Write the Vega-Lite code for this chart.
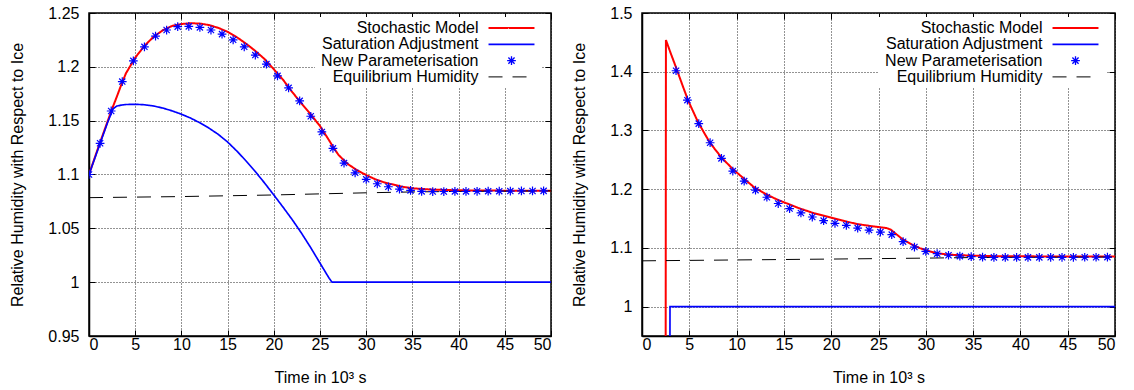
{
  "$schema": "https://vega.github.io/schema/vega-lite/v6.json",
  "padding": {"left": 8, "top": 4, "right": 0, "bottom": 0},
  "spacing": 17,
  "resolve": {"scale": {"color": "independent", "shape": "independent", "strokeDash": "independent", "strokeWidth": "independent"}},
  "datasets": {
    "L": [
      {"s":"Stochastic Model","x":0,"y":1.1},{"s":"Stochastic Model","x":1,"y":1.125},{"s":"Stochastic Model","x":2,"y":1.149},{"s":"Stochastic Model","x":2.5,"y":1.161},{"s":"Stochastic Model","x":3,"y":1.172},{"s":"Stochastic Model","x":3.5,"y":1.1835},{"s":"Stochastic Model","x":4,"y":1.194},{"s":"Stochastic Model","x":5,"y":1.2085},{"s":"Stochastic Model","x":6,"y":1.2195},{"s":"Stochastic Model","x":7,"y":1.228},{"s":"Stochastic Model","x":8,"y":1.234},{"s":"Stochastic Model","x":9,"y":1.238},{"s":"Stochastic Model","x":10,"y":1.2398},{"s":"Stochastic Model","x":11,"y":1.2405},{"s":"Stochastic Model","x":12,"y":1.2402},{"s":"Stochastic Model","x":13,"y":1.2388},{"s":"Stochastic Model","x":14,"y":1.2362},{"s":"Stochastic Model","x":15,"y":1.2325},{"s":"Stochastic Model","x":16,"y":1.2275},{"s":"Stochastic Model","x":17,"y":1.2215},{"s":"Stochastic Model","x":18,"y":1.2148},{"s":"Stochastic Model","x":19,"y":1.2072},{"s":"Stochastic Model","x":20,"y":1.1978},{"s":"Stochastic Model","x":21,"y":1.188},{"s":"Stochastic Model","x":22,"y":1.1765},{"s":"Stochastic Model","x":23,"y":1.166},{"s":"Stochastic Model","x":24,"y":1.1558},{"s":"Stochastic Model","x":25,"y":1.145},{"s":"Stochastic Model","x":26,"y":1.1315},{"s":"Stochastic Model","x":26.5,"y":1.1245},{"s":"Stochastic Model","x":27,"y":1.1182},{"s":"Stochastic Model","x":28,"y":1.1098},{"s":"Stochastic Model","x":29,"y":1.104},{"s":"Stochastic Model","x":30,"y":1.0995},{"s":"Stochastic Model","x":31,"y":1.0955},{"s":"Stochastic Model","x":32,"y":1.0925},{"s":"Stochastic Model","x":33,"y":1.0905},{"s":"Stochastic Model","x":34,"y":1.0885},{"s":"Stochastic Model","x":35,"y":1.0872},{"s":"Stochastic Model","x":37,"y":1.086},{"s":"Stochastic Model","x":40,"y":1.0853},{"s":"Stochastic Model","x":45,"y":1.085},{"s":"Stochastic Model","x":50,"y":1.085},
      {"s":"Saturation Adjustment","x":0,"y":1.1},{"s":"Saturation Adjustment","x":1,"y":1.124},{"s":"Saturation Adjustment","x":2,"y":1.148},{"s":"Saturation Adjustment","x":2.6,"y":1.161},{"s":"Saturation Adjustment","x":3,"y":1.1635},{"s":"Saturation Adjustment","x":3.5,"y":1.1645},{"s":"Saturation Adjustment","x":4,"y":1.165},{"s":"Saturation Adjustment","x":5,"y":1.1652},{"s":"Saturation Adjustment","x":6,"y":1.1648},{"s":"Saturation Adjustment","x":7,"y":1.1636},{"s":"Saturation Adjustment","x":8,"y":1.1617},{"s":"Saturation Adjustment","x":9,"y":1.1591},{"s":"Saturation Adjustment","x":10,"y":1.156},{"s":"Saturation Adjustment","x":11,"y":1.1524},{"s":"Saturation Adjustment","x":12,"y":1.148},{"s":"Saturation Adjustment","x":13,"y":1.143},{"s":"Saturation Adjustment","x":14,"y":1.1372},{"s":"Saturation Adjustment","x":15,"y":1.1302},{"s":"Saturation Adjustment","x":16,"y":1.1218},{"s":"Saturation Adjustment","x":17,"y":1.1126},{"s":"Saturation Adjustment","x":18,"y":1.1027},{"s":"Saturation Adjustment","x":19,"y":1.0921},{"s":"Saturation Adjustment","x":20,"y":1.081},{"s":"Saturation Adjustment","x":21,"y":1.0697},{"s":"Saturation Adjustment","x":22,"y":1.058},{"s":"Saturation Adjustment","x":23,"y":1.0455},{"s":"Saturation Adjustment","x":24,"y":1.032},{"s":"Saturation Adjustment","x":25,"y":1.0177},{"s":"Saturation Adjustment","x":26,"y":1.0035},{"s":"Saturation Adjustment","x":26.3,"y":1.0},{"s":"Saturation Adjustment","x":50,"y":1.0},
      {"s":"New Parameterisation","x":0,"y":1.1},{"s":"New Parameterisation","x":1.2,"y":1.129},{"s":"New Parameterisation","x":2.4,"y":1.159},{"s":"New Parameterisation","x":3.6,"y":1.1863},{"s":"New Parameterisation","x":4.8,"y":1.2056},{"s":"New Parameterisation","x":6,"y":1.2186},{"s":"New Parameterisation","x":7.2,"y":1.2286},{"s":"New Parameterisation","x":8.4,"y":1.2342},{"s":"New Parameterisation","x":9.6,"y":1.2373},{"s":"New Parameterisation","x":10.8,"y":1.2376},{"s":"New Parameterisation","x":12,"y":1.2366},{"s":"New Parameterisation","x":13.2,"y":1.2342},{"s":"New Parameterisation","x":14.4,"y":1.2304},{"s":"New Parameterisation","x":15.6,"y":1.2251},{"s":"New Parameterisation","x":16.8,"y":1.2186},{"s":"New Parameterisation","x":18,"y":1.2109},{"s":"New Parameterisation","x":19.2,"y":1.2025},{"s":"New Parameterisation","x":20.4,"y":1.1916},{"s":"New Parameterisation","x":21.6,"y":1.1805},{"s":"New Parameterisation","x":22.8,"y":1.1684},{"s":"New Parameterisation","x":24,"y":1.1541},{"s":"New Parameterisation","x":25.2,"y":1.1395},{"s":"New Parameterisation","x":26.4,"y":1.1243},{"s":"New Parameterisation","x":27.6,"y":1.1106},{"s":"New Parameterisation","x":28.8,"y":1.1016},{"s":"New Parameterisation","x":30,"y":1.0955},{"s":"New Parameterisation","x":31.2,"y":1.0914},{"s":"New Parameterisation","x":32.4,"y":1.0886},{"s":"New Parameterisation","x":33.6,"y":1.0865},{"s":"New Parameterisation","x":34.8,"y":1.0852},{"s":"New Parameterisation","x":36,"y":1.0843},{"s":"New Parameterisation","x":37.2,"y":1.0842},{"s":"New Parameterisation","x":38.4,"y":1.0842},{"s":"New Parameterisation","x":39.6,"y":1.0843},{"s":"New Parameterisation","x":40.8,"y":1.0843},{"s":"New Parameterisation","x":42,"y":1.0844},{"s":"New Parameterisation","x":43.2,"y":1.0845},{"s":"New Parameterisation","x":44.4,"y":1.0845},{"s":"New Parameterisation","x":45.6,"y":1.0846},{"s":"New Parameterisation","x":46.8,"y":1.0847},{"s":"New Parameterisation","x":48,"y":1.0847},{"s":"New Parameterisation","x":49.2,"y":1.0848},
      {"s":"Equilibrium Humidity","x":0,"y":1.0785},{"s":"Equilibrium Humidity","x":10,"y":1.0795},{"s":"Equilibrium Humidity","x":20,"y":1.081},{"s":"Equilibrium Humidity","x":30,"y":1.083},{"s":"Equilibrium Humidity","x":35,"y":1.0838},{"s":"Equilibrium Humidity","x":40,"y":1.0843},{"s":"Equilibrium Humidity","x":50,"y":1.0848}
    ],
    "R": [
      {"s":"Stochastic Model","x":2.5,"y":0.9},{"s":"Stochastic Model","x":2.53,"y":1.454},{"s":"Stochastic Model","x":3,"y":1.433},{"s":"Stochastic Model","x":3.66,"y":1.4046},{"s":"Stochastic Model","x":4.3,"y":1.376},{"s":"Stochastic Model","x":4.89,"y":1.3504},{"s":"Stochastic Model","x":5.95,"y":1.3133},{"s":"Stochastic Model","x":7.18,"y":1.279},{"s":"Stochastic Model","x":8.42,"y":1.2535},{"s":"Stochastic Model","x":9.64,"y":1.2337},{"s":"Stochastic Model","x":10.87,"y":1.2166},{"s":"Stochastic Model","x":11.93,"y":1.2022},{"s":"Stochastic Model","x":13.17,"y":1.1909},{"s":"Stochastic Model","x":14.4,"y":1.1815},{"s":"Stochastic Model","x":15.6,"y":1.174},{"s":"Stochastic Model","x":16.7,"y":1.167},{"s":"Stochastic Model","x":18.2,"y":1.159},{"s":"Stochastic Model","x":19.85,"y":1.1521},{"s":"Stochastic Model","x":21.3,"y":1.1462},{"s":"Stochastic Model","x":22.7,"y":1.1407},{"s":"Stochastic Model","x":24.3,"y":1.137},{"s":"Stochastic Model","x":25.85,"y":1.1338},{"s":"Stochastic Model","x":26.3,"y":1.131},{"s":"Stochastic Model","x":27.6,"y":1.114},{"s":"Stochastic Model","x":28.5,"y":1.106},{"s":"Stochastic Model","x":29.36,"y":1.0997},{"s":"Stochastic Model","x":30.2,"y":1.095},{"s":"Stochastic Model","x":31.1,"y":1.0911},{"s":"Stochastic Model","x":32.5,"y":1.0884},{"s":"Stochastic Model","x":34.6,"y":1.087},{"s":"Stochastic Model","x":37,"y":1.086},{"s":"Stochastic Model","x":40,"y":1.0856},{"s":"Stochastic Model","x":50,"y":1.0855},
      {"s":"Saturation Adjustment","x":2.95,"y":0.9},{"s":"Saturation Adjustment","x":2.96,"y":1.0},{"s":"Saturation Adjustment","x":50,"y":1.0},
      {"s":"New Parameterisation","x":3.6,"y":1.4017},{"s":"New Parameterisation","x":4.8,"y":1.3516},{"s":"New Parameterisation","x":6,"y":1.3116},{"s":"New Parameterisation","x":7.2,"y":1.2791},{"s":"New Parameterisation","x":8.4,"y":1.2525},{"s":"New Parameterisation","x":9.6,"y":1.2308},{"s":"New Parameterisation","x":10.8,"y":1.2137},{"s":"New Parameterisation","x":12,"y":1.1983},{"s":"New Parameterisation","x":13.2,"y":1.1863},{"s":"New Parameterisation","x":14.4,"y":1.1756},{"s":"New Parameterisation","x":15.6,"y":1.167},{"s":"New Parameterisation","x":16.8,"y":1.1595},{"s":"New Parameterisation","x":18,"y":1.1526},{"s":"New Parameterisation","x":19.2,"y":1.1465},{"s":"New Parameterisation","x":20.4,"y":1.1419},{"s":"New Parameterisation","x":21.6,"y":1.1385},{"s":"New Parameterisation","x":22.8,"y":1.1338},{"s":"New Parameterisation","x":24,"y":1.1304},{"s":"New Parameterisation","x":25.2,"y":1.127},{"s":"New Parameterisation","x":26.4,"y":1.1226},{"s":"New Parameterisation","x":27.6,"y":1.1106},{"s":"New Parameterisation","x":28.8,"y":1.1015},{"s":"New Parameterisation","x":30,"y":1.094},{"s":"New Parameterisation","x":31.2,"y":1.0902},{"s":"New Parameterisation","x":32.4,"y":1.0875},{"s":"New Parameterisation","x":33.6,"y":1.086},{"s":"New Parameterisation","x":34.8,"y":1.085},{"s":"New Parameterisation","x":36,"y":1.0842},{"s":"New Parameterisation","x":37.2,"y":1.0839},{"s":"New Parameterisation","x":38.4,"y":1.0838},{"s":"New Parameterisation","x":39.6,"y":1.0838},{"s":"New Parameterisation","x":40.8,"y":1.0839},{"s":"New Parameterisation","x":42,"y":1.0839},{"s":"New Parameterisation","x":43.2,"y":1.084},{"s":"New Parameterisation","x":44.4,"y":1.084},{"s":"New Parameterisation","x":45.6,"y":1.084},{"s":"New Parameterisation","x":46.8,"y":1.0841},{"s":"New Parameterisation","x":48,"y":1.0841},{"s":"New Parameterisation","x":49.2,"y":1.0842},
      {"s":"Equilibrium Humidity","x":0,"y":1.078},{"s":"Equilibrium Humidity","x":10,"y":1.0795},{"s":"Equilibrium Humidity","x":20,"y":1.081},{"s":"Equilibrium Humidity","x":30,"y":1.0826},{"s":"Equilibrium Humidity","x":35,"y":1.0836},{"s":"Equilibrium Humidity","x":40,"y":1.084},{"s":"Equilibrium Humidity","x":50,"y":1.0845}
    ]
  },
  "hconcat": [
    {
      "width": 462, "height": 323,
      "data": {"name": "L"},
      "layer": [
        {
          "transform": [{"filter": "datum.s !== 'New Parameterisation'"}],
          "mark": {"type": "line", "clip": true},
          "encoding": {
            "x": {"field": "x", "type": "quantitative", "scale": {"domain": [0, 50], "nice": false, "zero": false},
                  "axis": {"orient": "bottom", "values": [0,5,10,15,20,25,30,35,40,45,50], "title": "Time in 10³ s", "grid": true, "labelPadding": 6.5, "titlePadding": 16.5}},
            "y": {"field": "y", "type": "quantitative", "scale": {"domain": [0.95, 1.25], "nice": false, "zero": false},
                  "axis": {"orient": "left", "values": [0.95,1,1.05,1.1,1.15,1.2,1.25], "format": "~g", "title": "Relative Humidity with Respect to Ice", "grid": true, "labelPadding": 16, "titlePadding": 22.5}},
            "color": {"field": "s", "type": "nominal", "scale": {"domain": ["Stochastic Model","Saturation Adjustment","New Parameterisation","Equilibrium Humidity"], "range": ["#ff0000","#0000ff","#0000ff","#000000"]},
                      "legend": {"title": null, "orient": "none", "legendX": 226, "legendY": 4}},
            "strokeDash": {"field": "s", "type": "nominal", "scale": {"domain": ["Stochastic Model","Saturation Adjustment","New Parameterisation","Equilibrium Humidity"], "range": [[1,0],[1,0],[1,0],[14,10]]},
                      "legend": {"title": null, "orient": "none", "legendX": 226, "legendY": 4}},
            "strokeWidth": {"field": "s", "type": "nominal", "scale": {"domain": ["Stochastic Model","Saturation Adjustment","New Parameterisation","Equilibrium Humidity"], "range": [2,1,1,1]}, "legend": null}
          }
        },
        {
          "transform": [{"filter": "datum.s === 'New Parameterisation'"}],
          "mark": {"type": "point", "filled": false, "size": 132, "strokeWidth": 1.2, "opacity": 1, "clip": true},
          "encoding": {
            "x": {"field": "x", "type": "quantitative", "scale": {"domain": [0, 50], "nice": false, "zero": false},
                  "axis": {"orient": "top", "values": [0,5,10,15,20,25,30,35,40,45,50], "labels": false, "grid": false, "domain": false, "title": null}},
            "y": {"field": "y", "type": "quantitative", "scale": {"domain": [0.95, 1.25], "nice": false, "zero": false},
                  "axis": {"orient": "right", "values": [0.95,1,1.05,1.1,1.15,1.2,1.25], "labels": false, "grid": false, "domain": false, "title": null}},
            "color": {"field": "s", "type": "nominal", "scale": {"domain": ["Stochastic Model","Saturation Adjustment","New Parameterisation","Equilibrium Humidity"], "range": ["#ff0000","#0000ff","#0000ff","#000000"]},
                      "legend": {"title": null, "orient": "none", "legendX": 226, "legendY": 4}},
            "shape": {"field": "s", "type": "nominal", "scale": {"domain": ["Stochastic Model","Saturation Adjustment","New Parameterisation","Equilibrium Humidity"], "range": ["M-4,0L4,0","M-4,0L4,0","M-0.76,0L0.76,0M0,-0.76L0,0.76M-0.54,-0.54L0.54,0.54M-0.54,0.54L0.54,-0.54","M-4,0L4,0"]},
                      "legend": {"title": null, "orient": "none", "legendX": 226, "legendY": 4}}
          }
        }
      ]
    },
    {
      "width": 473, "height": 323,
      "data": {"name": "R"},
      "layer": [
        {
          "transform": [{"filter": "datum.s !== 'New Parameterisation'"}],
          "mark": {"type": "line", "clip": true},
          "encoding": {
            "x": {"field": "x", "type": "quantitative", "scale": {"domain": [0, 50], "nice": false, "zero": false},
                  "axis": {"orient": "bottom", "values": [0,5,10,15,20,25,30,35,40,45,50], "title": "Time in 10³ s", "grid": true, "labelPadding": 6.5, "titlePadding": 16.5}},
            "y": {"field": "y", "type": "quantitative", "scale": {"domain": [0.95, 1.5], "nice": false, "zero": false},
                  "axis": {"orient": "left", "values": [1,1.1,1.2,1.3,1.4,1.5], "format": "~g", "title": "Relative Humidity with Respect to Ice", "grid": true, "labelPadding": 16, "titlePadding": 22.5}},
            "color": {"field": "s", "type": "nominal", "scale": {"domain": ["Stochastic Model","Saturation Adjustment","New Parameterisation","Equilibrium Humidity"], "range": ["#ff0000","#0000ff","#0000ff","#000000"]},
                      "legend": {"title": null, "orient": "none", "legendX": 237, "legendY": 4}},
            "strokeDash": {"field": "s", "type": "nominal", "scale": {"domain": ["Stochastic Model","Saturation Adjustment","New Parameterisation","Equilibrium Humidity"], "range": [[1,0],[1,0],[1,0],[14,10]]},
                      "legend": {"title": null, "orient": "none", "legendX": 237, "legendY": 4}},
            "strokeWidth": {"field": "s", "type": "nominal", "scale": {"domain": ["Stochastic Model","Saturation Adjustment","New Parameterisation","Equilibrium Humidity"], "range": [2,1,1,1]}, "legend": null}
          }
        },
        {
          "transform": [{"filter": "datum.s === 'New Parameterisation'"}],
          "mark": {"type": "point", "filled": false, "size": 132, "strokeWidth": 1.2, "opacity": 1, "clip": true},
          "encoding": {
            "x": {"field": "x", "type": "quantitative", "scale": {"domain": [0, 50], "nice": false, "zero": false},
                  "axis": {"orient": "top", "values": [0,5,10,15,20,25,30,35,40,45,50], "labels": false, "grid": false, "domain": false, "title": null}},
            "y": {"field": "y", "type": "quantitative", "scale": {"domain": [0.95, 1.5], "nice": false, "zero": false},
                  "axis": {"orient": "right", "values": [1,1.1,1.2,1.3,1.4,1.5], "labels": false, "grid": false, "domain": false, "title": null}},
            "color": {"field": "s", "type": "nominal", "scale": {"domain": ["Stochastic Model","Saturation Adjustment","New Parameterisation","Equilibrium Humidity"], "range": ["#ff0000","#0000ff","#0000ff","#000000"]},
                      "legend": {"title": null, "orient": "none", "legendX": 237, "legendY": 4}},
            "shape": {"field": "s", "type": "nominal", "scale": {"domain": ["Stochastic Model","Saturation Adjustment","New Parameterisation","Equilibrium Humidity"], "range": ["M-4,0L4,0","M-4,0L4,0","M-0.76,0L0.76,0M0,-0.76L0,0.76M-0.54,-0.54L0.54,0.54M-0.54,0.54L0.54,-0.54","M-4,0L4,0"]},
                      "legend": {"title": null, "orient": "none", "legendX": 237, "legendY": 4}}
          }
        }
      ]
    }
  ],
  "config": {
    "font": "Liberation Sans",
    "view": {"stroke": "black", "strokeWidth": 1.5},
    "axis": {
      "labelFont": "Liberation Sans", "labelFontSize": 16, "labelColor": "black",
      "titleFont": "Liberation Sans", "titleFontSize": 16, "titleFontWeight": "normal", "titleColor": "black",
      "domainColor": "black", "domainWidth": 1.5,
      "tickColor": "black", "tickSize": -6, "tickWidth": 1,
      "gridColor": "black", "gridDash": [1, 2], "gridWidth": 1, "gridOpacity": 0.85
    },
    "legend": {
      "labelFont": "Liberation Sans", "labelFontSize": 16, "labelColor": "black",
      "labelAlign": "right", "labelOffset": -41, "labelLimit": 0,
      "symbolOffset": 185.5, "symbolSize": 132, "symbolStrokeWidth": 1.5,
      "rowPadding": 0.3, "padding": 3, "fillColor": "white"
    }
  }
}
